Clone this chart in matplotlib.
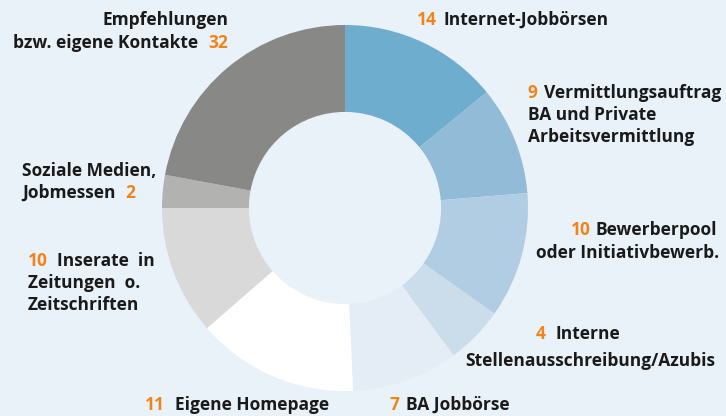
import matplotlib
matplotlib.use('Agg')
import matplotlib.pyplot as plt

# data (clockwise from 12 o'clock)
categories = ['Internet-Jobbörsen', 'Vermittlungsauftrag BA und Private Arbeitsvermittlung',
              'Bewerberpool oder Initiativbewerb.', 'Interne Stellenausschreibung/Azubis',
              'BA Jobbörse', 'Eigene Homepage', 'Inserate in Zeitungen o. Zeitschriften',
              'Soziale Medien, Jobmessen', 'Empfehlungen bzw. eigene Kontakte']
values = [14, 9, 10, 4, 7, 11, 10, 2, 32]
# ring sizes as drawn in the original (percent of the circle)
shares = [14.1, 9.6, 11.1, 5.1, 9.4, 14.3, 11.4, 2.9, 22.1]
colors = ['#6eadce', '#91bbd7', '#b1cde3', '#cbdcea', '#e4edf5',
          '#ffffff', '#d9d9d9', '#b2b2b1', '#888887']

BG = '#eaf2f9'
ORANGE = '#f08419'
DARK = '#1a1a1a'
W, H = 726, 416

fig = plt.figure(figsize=(W / 100, H / 100), dpi=100)
fig.patch.set_facecolor(BG)
ax = fig.add_axes([0, 0, 1, 1])
ax.set_facecolor(BG)

R = 183
ax.pie(shares, colors=colors, startangle=90, counterclock=False,
       center=(345, H - 208), radius=R,
       wedgeprops=dict(width=R * 0.475, edgecolor='none', linewidth=0, antialiased=True))
ax.set_xlim(0, W)
ax.set_ylim(0, H)
ax.axis('off')

font = dict(family=['Open Sans', 'DejaVu Sans'], fontsize=12.5, fontweight='bold')
renderer = fig.canvas.get_renderer()


def put_line(x, y, parts, ha='left', gap=6):
    # parts: list of (text, colour); y is the baseline in px from top
    texts = [ax.text(0, H - y, s, color=c, ha='left', va='baseline', **font) for s, c in parts]
    widths = [t.get_window_extent(renderer).width for t in texts]
    total = sum(widths) + gap * (len(widths) - 1)
    if ha == 'right':
        x0 = x - total
    elif ha == 'center':
        x0 = x - total / 2
    else:
        x0 = x
    for t, w in zip(texts, widths):
        t.set_x(x0)
        x0 += w + gap


def num(i):
    return str(values[i])


put_line(228, 25, [('Empfehlungen', DARK)], ha='right')
put_line(228, 48, [('bzw. eigene Kontakte', DARK), (num(8), ORANGE)], ha='right', gap=10)

put_line(417, 25, [(num(0), ORANGE), ('Internet-Jobbörsen', DARK)], gap=7)

put_line(528, 98, [(num(1), ORANGE), ('Vermittlungsauftrag', DARK)], gap=6)
put_line(528, 120, [('BA und Private', DARK)])
put_line(528, 142, [('Arbeitsvermittlung', DARK)])

put_line(717, 235, [(num(2), ORANGE), ('Bewerberpool', DARK)], ha='right', gap=5)
put_line(719, 258, [('oder Initiativbewerb.', DARK)], ha='right')

put_line(578, 339, [(num(3), ORANGE), ('Interne', DARK)], ha='center', gap=10)
put_line(590, 366, [('Stellenausschreibung/Azubis', DARK)], ha='center')

put_line(389, 410, [(num(4), ORANGE), ('BA Jobbörse', DARK)], gap=7)
put_line(145, 410, [(num(5), ORANGE), ('Eigene Homepage', DARK)], gap=10)

put_line(28, 266, [(num(6), ORANGE), ('Inserate  in', DARK)], gap=9)
put_line(28, 288, [('Zeitungen  o.', DARK)])
put_line(28, 310, [('Zeitschriften', DARK)])

put_line(22, 176, [('Soziale Medien,', DARK)])
put_line(22, 198, [('Jobmessen', DARK), (num(7), ORANGE)], gap=10)

fig.savefig('out.png', dpi=100, facecolor=BG)
